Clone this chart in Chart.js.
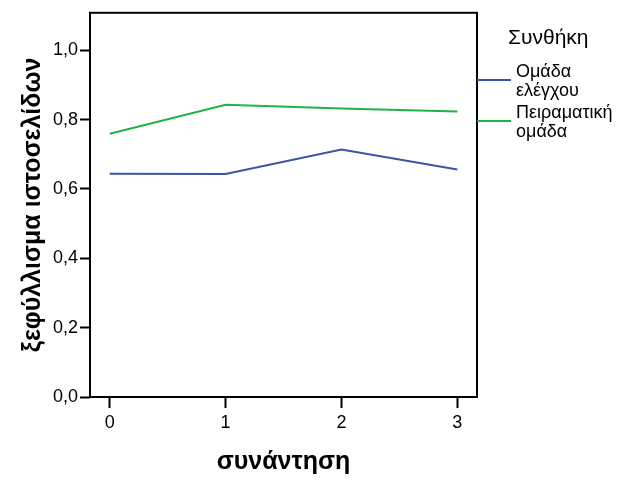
<!DOCTYPE html>
<html>
<head>
<meta charset="utf-8">
<script src="https://cdn.jsdelivr.net/npm/chart.js@4"></script>
<style>
  body { margin: 0; background: #fff; }
  #wrap { width: 618px; height: 480px; }
</style>
</head>
<body>
<div id="wrap"><canvas id="chart"></canvas></div>
<script>
// δεδομένα
const sessions = [0, 1, 2, 3];
const controlValues = [0.644, 0.643, 0.714, 0.656];
const experimentalValues = [0.759, 0.843, 0.832, 0.823];
const seriesNames = [['Ομάδα', 'ελέγχου'], ['Πειραματική', 'ομάδα']];
const legendTitle = 'Συνθήκη';

const fontFam = '"Liberation Sans", Arial, sans-serif';

function points(vals) {
  return sessions.map(function (s, i) { return { x: s, y: vals[i] }; });
}

// πλαίσιο γύρω από την περιοχή του γραφήματος + υπόμνημα
const boxAndLegend = {
  id: 'boxAndLegend',
  afterDraw(chart) {
    const ctx = chart.ctx;
    const a = chart.chartArea;
    ctx.save();
    ctx.strokeStyle = '#000';
    ctx.lineWidth = 2;
    ctx.strokeRect(a.left, a.top, a.right - a.left, a.bottom - a.top);

    ctx.fillStyle = '#000';
    ctx.font = '21px ' + fontFam;
    ctx.textBaseline = 'middle';
    ctx.textAlign = 'left';
    ctx.fillText(legendTitle, 508, 38);

    const rowY = [80, 121];
    chart.data.datasets.forEach(function (ds, i) {
      const y = rowY[i];
      ctx.strokeStyle = ds.borderColor;
      ctx.lineWidth = 2;
      ctx.beginPath();
      ctx.moveTo(a.right, y);
      ctx.lineTo(511, y);
      ctx.stroke();
      ctx.fillStyle = '#000';
      ctx.font = '18px ' + fontFam;
      const lines = seriesNames[i];
      ctx.fillText(lines[0], 516, y - 8);
      ctx.fillText(lines[1], 516, y + 11);
    });
    ctx.restore();
  }
};

new Chart(document.getElementById('chart'), {
  type: 'scatter',
  data: {
    datasets: [
      {
        label: seriesNames[0].join(' '),
        data: points(controlValues),
        showLine: true,
        borderColor: '#3b54a5',
        borderWidth: 2,
        pointRadius: 0,
        tension: 0
      },
      {
        label: seriesNames[1].join(' '),
        data: points(experimentalValues),
        showLine: true,
        borderColor: '#22b24c',
        borderWidth: 2,
        pointRadius: 0,
        tension: 0
      }
    ]
  },
  options: {
    responsive: true,
    maintainAspectRatio: false,
    animation: false,
    layout: { padding: { top: 12, right: 141, left: 0, bottom: 0 } },
    plugins: {
      legend: { display: false },
      tooltip: { enabled: false }
    },
    scales: {
      x: {
        type: 'linear',
        min: -0.17,
        max: 3.17,
        border: { display: false },
        grid: { drawOnChartArea: false, tickLength: 11, tickWidth: 2, color: '#000' },
        ticks: {
          stepSize: 1,
          includeBounds: false,
          color: '#000',
          padding: 4,
          font: { family: fontFam, size: 18 }
        },
        title: {
          display: true,
          text: 'συνάντηση',
          color: '#000',
          padding: { top: 0, bottom: 3 },
          font: { family: fontFam, size: 25, weight: 'bold' }
        },
        afterFit(scale) { scale.height = 83; }
      },
      y: {
        min: 0,
        max: 1.108,
        border: { display: false },
        grid: { drawOnChartArea: false, tickLength: 10, tickWidth: 2, color: '#000' },
        ticks: {
          stepSize: 0.2,
          includeBounds: false,
          color: '#000',
          padding: 2,
          font: { family: fontFam, size: 18 },
          callback: function (v) { return v.toFixed(1).replace('.', ','); }
        },
        title: {
          display: true,
          text: 'ξεφύλλισμα ιστοσελίδων',
          color: '#000',
          padding: { top: 18, bottom: 0 },
          font: { family: fontFam, size: 25, weight: 'bold' }
        },
        afterFit(scale) { scale.width = 90; }
      }
    }
  },
  plugins: [boxAndLegend]
});
</script>
</body>
</html>
